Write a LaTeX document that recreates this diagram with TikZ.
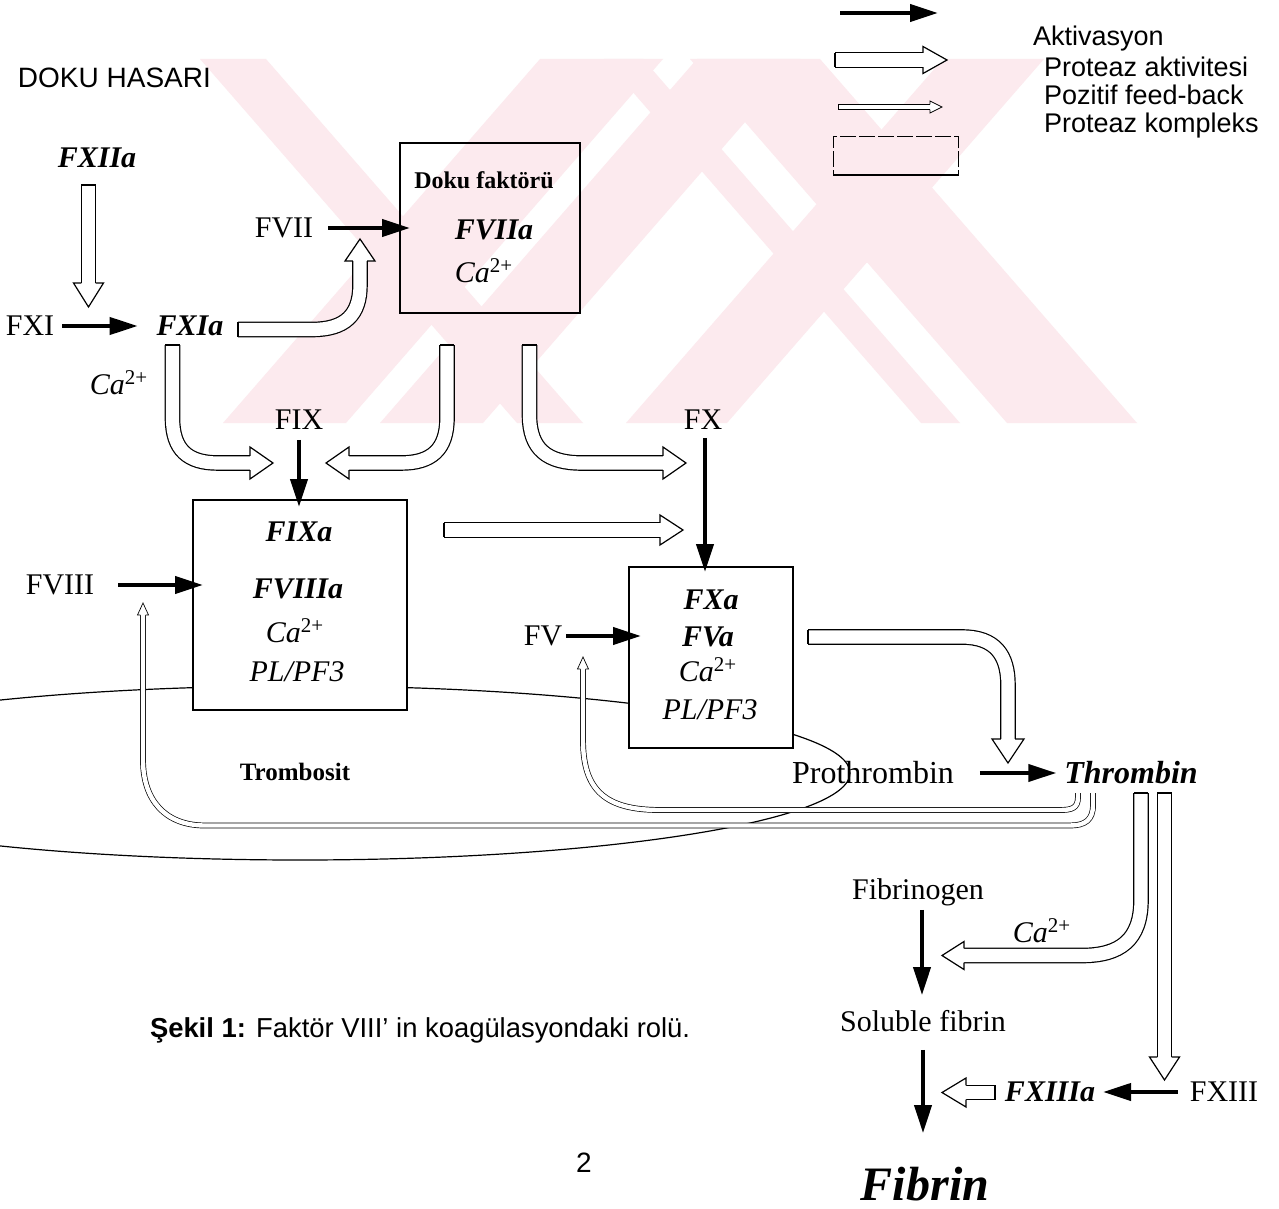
\documentclass[tikz,border=0pt]{standalone}
\usepackage{fontspec}
\setmainfont{Liberation Serif}
\newfontfamily\arialf{Liberation Sans}
\usetikzlibrary{arrows.meta,calc}
\definecolor{wmpink}{RGB}{252,234,238}
% hollow arrow head: tip, angle, shaft half width, head half width, head length, line width
\newcommand{\hhd}[6]{\begin{scope}[shift={(#1)},rotate=#2]\filldraw[fill=white,line width=#6,line join=miter] (-#5,#3) -- (-#5,#4) -- (0,0) -- (-#5,-#4) -- (-#5,-#3);\end{scope}}
% tail cap of hollow shaft
\newcommand{\tcap}[4]{\begin{scope}[shift={(#1)},rotate=#2]\draw[line width=#4] (0,-#3) -- (0,#3);\end{scope}}
\newcommand{\calc}{\textit{Ca}\textsuperscript{\upshape 2+}}
\begin{document}
\begin{tikzpicture}[x=0.5pt,y=-0.5pt,
  every node/.style={inner sep=0pt,outer sep=0pt},
  tr/.style={font=\fontsize{15}{18}\selectfont,text height=9.9pt,text depth=0pt},
  tbi/.style={font=\fontsize{15}{18}\selectfont\bfseries\itshape,text height=9.9pt,text depth=0pt},
  ti/.style={font=\fontsize{15}{18}\selectfont\itshape,text height=9.9pt,text depth=0pt},
  tr16/.style={font=\fontsize{16}{19}\selectfont,text height=10.6pt,text depth=0pt},
  tbi16/.style={font=\fontsize{16}{19}\selectfont\bfseries\itshape,text height=10.6pt,text depth=0pt},
  tbold/.style={font=\fontsize{12.5}{15}\selectfont\bfseries,text height=8.3pt,text depth=0pt},
  sansl/.style={font=\arialf\fontsize{13.5}{16}\selectfont,text height=9.7pt,text depth=0pt,anchor=west},
  blk/.style={line width=2pt,-{Triangle[length=14pt,width=8.5pt]}},
  hol/.style={draw,line width=0.6pt,double=white,double distance=6.6pt},
  fbk/.style={draw,line width=0.35pt,double=white,double distance=2.2pt},
  cbox/.style={draw,line width=0.6pt}]
\useasboundingbox (0,0) rectangle (1279,1209);
\fill[white] (0,0) rectangle (1279,1209);
% ---------- watermark ----------
\begin{scope}
\clip (0,59) rectangle (1279,423);
\fill[wmpink] (943,59) -- (1044,59) -- (727,423) -- (626,423) -- cycle;
\fill[wmpink] (697,59) -- (800,59) -- (483,423) -- (380,423) -- cycle;
\fill[wmpink] (540,59) -- (663,59) -- (346,423) -- (223,423) -- cycle;
\fill[wmpink] (200,59) -- (266,59) -- (583,423) -- (517,423) -- cycle;
\fill[wmpink] (604,59) -- (643,59) -- (960,423) -- (921,423) -- cycle;
\fill[wmpink] (690,59) -- (820,59) -- (1137,423) -- (1007,423) -- cycle;
\end{scope}
% ---------- platelet ellipse ----------
\begin{scope}
\clip (0,0) rectangle (1279,1209);
\draw[line width=0.6pt] (300,773) ellipse [x radius=275pt,y radius=43.5pt];
\end{scope}
% ---------- complex boxes ----------
\node[cbox,minimum width=90pt,minimum height=85pt] (b1) at (490,228) {};
\node[cbox,fill=white,minimum width=107pt,minimum height=105pt] (b2) at (300,605) {};
\node[cbox,fill=white,minimum width=82pt,minimum height=90.5pt] (b3) at (711,657.5) {};
% ---------- texts ----------
\node[font=\arialf\fontsize{14}{16}\selectfont,text height=10pt,text depth=0pt,anchor=west] (doku) at (18,78) {DOKU HASARI};
\node[sansl] (lg1) at (1033,36) {Aktivasyon};
\node[sansl] (lg2) at (1044,67) {Proteaz aktivitesi};
\node[sansl] (lg3) at (1044,95) {Pozitif feed-back};
\node[sansl] (lg4) at (1044,123) {Proteaz kompleks};
\node[tbi] (fxiia) at (97,158) {FXIIa};
\node[tr] (fxi) at (30,326) {FXI};
\node[tbi] (fxia) at (190,326) {FXIa};
\node[tr] (fvii) at (284,228) {FVII};
\node[tr] (ca1) at (119,385) {\calc};
\node[font=\fontsize{12}{14}\selectfont\bfseries,text height=8pt,text depth=0pt] (dokuf) at (484,181) {Doku faktörü};
\node[tbi] (fviia) at (494,230) {FVIIa};
\node[tr] (ca2) at (484,273) {\calc};
\node[tr] (fix) at (299,420) {FIX};
\node[tr] (fx) at (703,420) {FX};
\node[tbi] (fixa) at (299,532) {FIXa};
\node[tbi] (fviiia) at (298,589) {FVIIIa};
\node[tr] (ca3) at (295,633) {\calc};
\node[ti] (pl1) at (297,672) {PL/PF3};
\node[tr] (fviii) at (60,585) {FVIII};
\node[tbi] (fxa) at (711,600) {FXa};
\node[tbi] (fva) at (708,637) {FVa};
\node[tr] (ca4) at (708,672) {\calc};
\node[ti] (pl2) at (710,710) {PL/PF3};
\node[tr] (fv) at (543,636) {FV};
\node[tbold] (tromb) at (295,772) {Trombosit};
\node[tr16] (proth) at (873,773) {Prothrombin};
\node[tbi16] (thromb) at (1131,773) {Thrombin};
\node[tr] (fibg) at (918,890) {Fibrinogen};
\node[tr] (ca5) at (1042,933) {\calc};
\node[tr] (solf) at (923,1022) {Soluble fibrin};
\node[tbi] (fxiiia) at (1050,1092) {FXIIIa};
\node[tr] (fxiii) at (1224,1092) {FXIII};
\node[font=\fontsize{24}{28}\selectfont\bfseries\itshape,text height=15.9pt,text depth=0pt] (fibrin) at (925,1185) {Fibrin};
\node[font=\arialf\fontsize{13.7}{16}\selectfont,text height=9.8pt,text depth=0pt,anchor=west] (capt) at (150,1028) {\textbf{Şekil 1:} Faktör VIII’ in koagülasyondaki rolü.};
\node[font=\arialf\fontsize{14}{16}\selectfont,text height=10pt,text depth=0pt] (pnum) at (584,1162) {2};
% ---------- legend symbols ----------
\coordinate (l1s) at (840,13); \coordinate (l1e) at (938,13);
\draw[blk] (l1s) -- (l1e);
\coordinate (l2s) at (835,60); \coordinate (l2t) at (947,60);
\draw[hol] (l2s) -- ($(l2t)+(-24,0)$); \hhd{l2t}{0}{7.2}{13.5}{24}{0.6pt} \tcap{l2s}{0}{7.2}{0.6pt}
\coordinate (l3s) at (838,107); \coordinate (l3t) at (942,107);
\draw[fbk] (l3s) -- ($(l3t)+(-12,0)$); \hhd{l3t}{0}{2.55}{6}{12}{0.35pt} \tcap{l3s}{0}{2.55}{0.35pt}
\node[draw,line width=0.5pt,dash pattern=on 8pt off 1.5pt,minimum width=62.5pt,minimum height=19.5pt] (lgbox) at (895.5,156) {};
\draw[line width=1pt] (lgbox.south west) -- (lgbox.south east);
% ---------- black activation arrows ----------
\draw[blk] ($(fxi.east)+(8,0)$) -- ($(fxia.west)+(-19,0)$);
\draw[blk] ($(fvii.east)+(15,0)$) -- ($(fvii.east -| b1.west)+(10,0)$);
\draw[blk] ($(fix.south)+(0,10)$) -- ($(fix.south |- b2.north)+(0,7)$);
\draw[blk] ($(fx.south)+(2,8)$) -- ($(fx.south |- b3.north)+(2,5)$);
\draw[blk] ($(fviii.east)+(24,0)$) -- ($(fviii.east -| b2.west)+(10,0)$);
\draw[blk] ($(fv.east)+(4,0)$) -- ($(fv.east -| b3.west)+(12,0)$);
\draw[blk] ($(proth.east)+(26,0)$) -- ($(thromb.west)+(-8,0)$);
\draw[blk] ($(fibg.south)+(4,10)$) -- ($(fibg.south |- solf.north)+(4,-17)$);
\draw[blk] ($(solf.south)+(0,18)$) -- ($(solf.south |- fibrin.north)+(0,-36)$);
\draw[blk] ($(fxiii.west)+(-12,0)$) -- ($(fxiiia.east)+(8,0)$);
% ---------- hollow protease-activity arrows ----------
% FXIIa -> FXIa
\coordinate (a1s) at (88.5,185); \coordinate (a1t) at (88.5,307);
\draw[hol] (a1s) -- ($(a1t)+(0,-24)$); \hhd{a1t}{-90}{7.2}{15}{24}{0.6pt} \tcap{a1s}{-90}{7.2}{0.6pt}
% FXIa -> FVII
\coordinate (a2s) at (238,329.5); \coordinate (a2t) at (360,239);
\draw[hol] (a2s) -- (312,329.5) .. controls (345,329.5) and (360,315) .. (360,285) -- ($(a2t)+(0,22)$);
\hhd{a2t}{90}{7.2}{15}{22}{0.6pt} \tcap{a2s}{0}{7.2}{0.6pt}
% FXIa -> FIX
\coordinate (a3s) at (172.5,345); \coordinate (a3t) at (273,463);
\draw[hol] (a3s) -- (172.5,418) .. controls (172.5,450) and (188,463) .. (218,463) -- ($(a3t)+(-23,0)$);
\hhd{a3t}{0}{7.2}{16}{23}{0.6pt} \tcap{a3s}{-90}{7.2}{0.6pt}
% TF complex -> FIX
\coordinate (a4s) at (447,345); \coordinate (a4t) at (326,463);
\draw[hol] (a4s) -- (447,418) .. controls (447,450) and (431,463) .. (401,463) -- ($(a4t)+(23,0)$);
\hhd{a4t}{180}{7.2}{16}{23}{0.6pt} \tcap{a4s}{-90}{7.2}{0.6pt}
% TF complex -> FX
\coordinate (a5s) at (529.5,345); \coordinate (a5t) at (686,463);
\draw[hol] (a5s) -- (529.5,415) .. controls (529.5,450) and (548,463) .. (582,463) -- ($(a5t)+(-23,0)$);
\hhd{a5t}{0}{7.2}{16}{23}{0.6pt} \tcap{a5s}{-90}{7.2}{0.6pt}
% tenase -> FX
\coordinate (a6s) at (444,530); \coordinate (a6t) at (683,530);
\draw[hol] (a6s) -- ($(a6t)+(-23,0)$); \hhd{a6t}{0}{7.2}{15}{23}{0.6pt} \tcap{a6s}{0}{7.2}{0.6pt}
% prothrombinase -> Thrombin
\coordinate (a7s) at (808,637); \coordinate (a7t) at (1008,763);
\draw[hol] (a7s) -- (962,637) .. controls (995,637) and (1008,655) .. (1008,685) -- ($(a7t)+(0,-24)$);
\hhd{a7t}{-90}{7.2}{16}{24}{0.6pt} \tcap{a7s}{0}{7.2}{0.6pt}
% Thrombin -> Fibrinogen
\coordinate (a8s) at (1141,793); \coordinate (a8t) at (942,955.5);
\draw[hol] (a8s) -- (1141,900) .. controls (1141,940) and (1120,955.5) .. (1082,955.5) -- ($(a8t)+(22,0)$);
\hhd{a8t}{180}{7.2}{14}{22}{0.6pt} \tcap{a8s}{-90}{7.2}{0.6pt}
% Thrombin -> FXIII
\coordinate (a9s) at (1164.5,793); \coordinate (a9t) at (1164.5,1080);
\draw[hol] (a9s) -- ($(a9t)+(0,-23)$); \hhd{a9t}{-90}{7.2}{15}{23}{0.6pt} \tcap{a9s}{-90}{7.2}{0.6pt}
% FXIIIa -> Fibrin
\coordinate (a10s) at (995,1092.5); \coordinate (a10t) at (942,1092.5);
\draw[hol] (a10s) -- ($(a10t)+(24,0)$); \hhd{a10t}{180}{7.2}{14.5}{24}{0.6pt} \tcap{a10s}{180}{7.2}{0.6pt}
% ---------- positive feedback arrows ----------
\coordinate (f1s) at (1078,793); \coordinate (f1t) at (583,657);
\draw[fbk] (f1s) -- (1078,797) .. controls (1078,808) and (1072,810) .. (1060,810) -- (660,810) .. controls (605,810) and (583,790) .. (583,740) -- ($(f1t)+(0,12)$);
\hhd{f1t}{90}{2.55}{5.5}{12}{0.35pt}
\coordinate (f2s) at (1093,793); \coordinate (f2t) at (143,603);
\draw[fbk] (f2s) -- (1093,805) .. controls (1093,820) and (1085,825.5) .. (1070,825.5) -- (205,825.5) .. controls (165,825.5) and (143,800) .. (143,760) -- ($(f2t)+(0,12)$);
\hhd{f2t}{90}{2.55}{5.5}{12}{0.35pt}
\end{tikzpicture}
\end{document}
